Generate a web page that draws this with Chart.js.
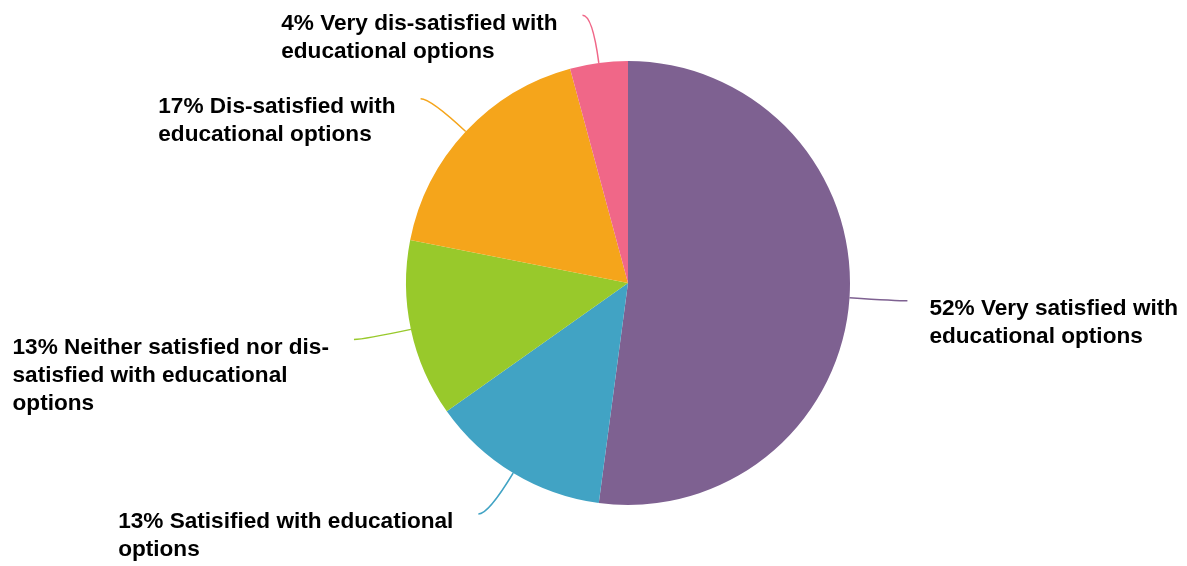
<!DOCTYPE html>
<html>
<head>
<meta charset="utf-8">
<script src="https://cdn.jsdelivr.net/npm/chart.js@4/dist/chart.umd.min.js"></script>
<style>
html,body{margin:0;padding:0;background:#fff;}
#wrap{width:1187px;height:566px;position:relative;}
</style>
</head>
<body>
<div id="wrap"><canvas id="c" width="1187" height="566"></canvas></div>
<script>
// Categories (label text lines) and values
const categoryLines = [
  ["52% Very satisfied with", "educational options"],
  ["13% Satisified with educational", "options"],
  ["13% Neither satisfied nor dis-", "satisfied with educational", "options"],
  ["17% Dis-satisfied with", "educational options"],
  ["4% Very dis-satisfied with", "educational options"]
];
const values = [52.1, 13.1, 12.9, 17.7, 4.2];
const colors = ["#7E6191", "#41A3C4", "#98C92B", "#F5A51B", "#F06788"];

const leaderPlugin = {
  id: 'leaders',
  afterDatasetsDraw(chart) {
    const ctx = chart.ctx;
    const meta = chart.getDatasetMeta(0);
    const font = "bold 22.6px 'Liberation Sans', Arial, Helvetica, sans-serif";
    const lineH = 28;
    meta.data.forEach((arc, i) => {
      const a = (arc.startAngle + arc.endAngle) / 2;
      const R = arc.outerRadius;
      const cx = arc.x, cy = arc.y;
      const cos = Math.cos(a), sin = Math.sin(a);
      const right = cos >= 0;
      const p0 = {x: cx + R * cos, y: cy + R * sin};
      const r1 = R + 48;
      const p1 = {x: cx + r1 * cos, y: cy + r1 * sin};
      const p2 = {x: p1.x + (right ? 10 : -10), y: p1.y};
      ctx.save();
      ctx.strokeStyle = colors[i];
      ctx.lineWidth = 1.5;
      ctx.beginPath();
      ctx.moveTo(p0.x, p0.y);
      ctx.quadraticCurveTo(p1.x, p1.y, p2.x, p2.y);
      ctx.stroke();
      ctx.font = font;
      ctx.fillStyle = "#000";
      ctx.textBaseline = "middle";
      const lines = categoryLines[i];
      let maxW = 0;
      lines.forEach(l => { maxW = Math.max(maxW, ctx.measureText(l).width); });
      const left = right ? p2.x + 22 : p2.x - 25 - maxW;
      ctx.textAlign = "left";
      lines.forEach((l, k) => {
        ctx.fillText(l, left, p2.y + 8 + k * lineH);
      });
      ctx.restore();
    });
  }
};

new Chart(document.getElementById('c'), {
  type: 'pie',
  data: {
    labels: categoryLines,
    datasets: [{
      data: values,
      backgroundColor: colors,
      borderWidth: 0
    }]
  },
  options: {
    responsive: false,
    animation: false,
    layout: { padding: { top: 61, bottom: 61, left: 69, right: 0 } },
    plugins: {
      legend: { display: false },
      tooltip: { enabled: false }
    }
  },
  plugins: [leaderPlugin]
});
</script>
</body>
</html>
